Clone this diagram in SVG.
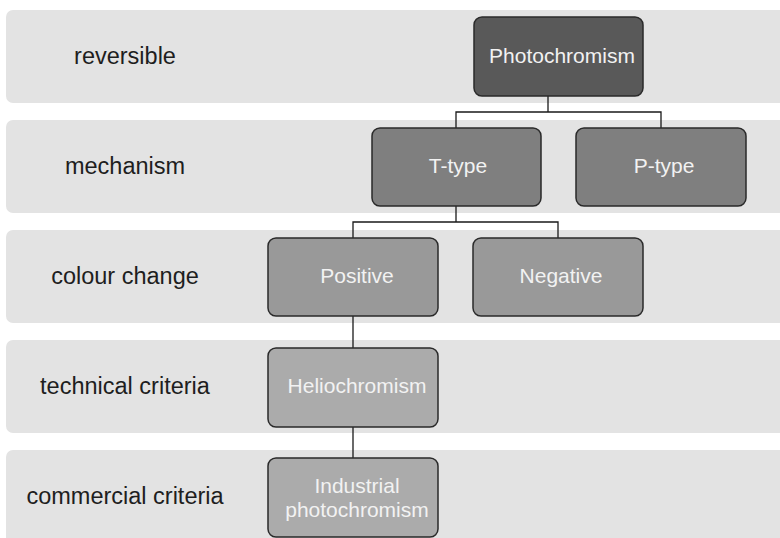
<svg xmlns="http://www.w3.org/2000/svg" width="780" height="538" viewBox="0 0 780 538">
<style>
.band{fill:#e3e3e3}
.lbl{font-family:"Liberation Sans",Arial,sans-serif;font-size:23.5px;fill:#1e1e1e;text-anchor:middle}
.box{stroke:#2a2a2a;stroke-width:1.5}
.t{font-family:"Liberation Sans",Arial,sans-serif;font-size:21px;fill:#f2f2f2;text-anchor:middle}
.l1{fill:#595959}.l2{fill:#7f7f7f}.l3{fill:#999999}.l4{fill:#ababab}
.c{fill:none;stroke:#1a1a1a;stroke-width:1.3}
</style>
<rect width="780" height="538" fill="#ffffff"/>
<g id="bands">
<rect class="band" x="6" y="10" width="790" height="93" rx="7"/>
<rect class="band" x="6" y="120" width="790" height="93" rx="7"/>
<rect class="band" x="6" y="230" width="790" height="93" rx="7"/>
<rect class="band" x="6" y="340" width="790" height="93" rx="7"/>
<rect class="band" x="6" y="450" width="790" height="100" rx="7"/>
<text class="lbl" x="125" y="64">reversible</text>
<text class="lbl" x="125" y="174">mechanism</text>
<text class="lbl" x="125" y="284">colour change</text>
<text class="lbl" x="125" y="394">technical criteria</text>
<text class="lbl" x="125" y="504">commercial criteria</text>
</g>
<g id="connectors">
<path class="c" d="M548 96V112M456 128V112H661V128"/>
<path class="c" d="M456 206V222M353 238V222H558V238"/>
<path class="c" d="M353 316V348"/>
<path class="c" d="M353 427V458"/>
</g>
<g id="photochromism"><rect class="box l1" x="474" y="17" width="169" height="79" rx="8"/><text class="t" x="562" y="63">Photochromism</text></g>
<g id="t-type"><rect class="box l2" x="372" y="128" width="169" height="78" rx="8"/><text class="t" x="458" y="173">T-type</text></g>
<g id="p-type"><rect class="box l2" x="576" y="128" width="170" height="78" rx="8"/><text class="t" x="664" y="173">P-type</text></g>
<g id="positive"><rect class="box l3" x="268" y="238" width="170" height="78" rx="8"/><text class="t" x="357" y="283">Positive</text></g>
<g id="negative"><rect class="box l3" x="473" y="238" width="170" height="78" rx="8"/><text class="t" x="561" y="283">Negative</text></g>
<g id="heliochromism"><rect class="box l4" x="268" y="348" width="170" height="79" rx="8"/><text class="t" x="357" y="393">Heliochromism</text></g>
<g id="industrial"><rect class="box l4" x="268" y="458" width="170" height="79" rx="8"/><text class="t" x="357" y="493">Industrial</text><text class="t" x="357" y="517">photochromism</text></g>
</svg>
